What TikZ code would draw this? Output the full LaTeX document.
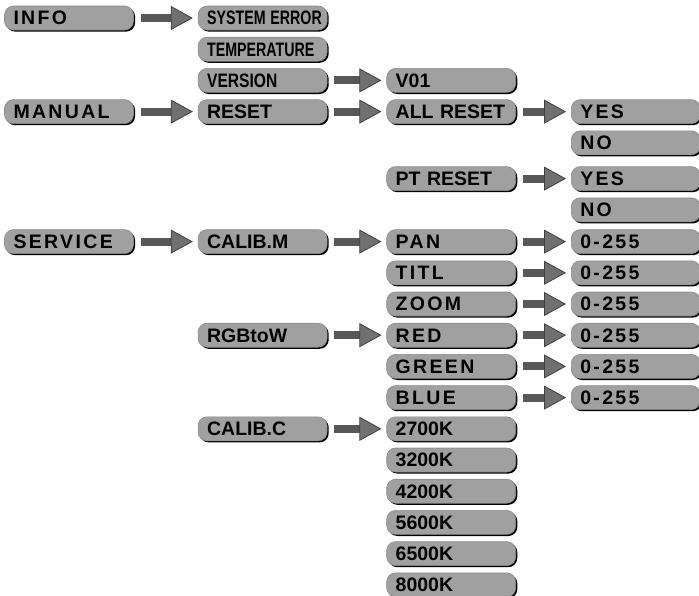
\documentclass[tikz,border=0pt]{standalone}
\usepackage{fontspec}
\setmainfont{Liberation Sans}
\newfontfamily\spacedfont{Liberation Sans}[LetterSpace=12]
\usepackage{graphicx}
\usetikzlibrary{arrows.meta,positioning,shadows}

\definecolor{boxgray}{RGB}{160,160,160}
\definecolor{shaftgray}{RGB}{88,88,88}
\definecolor{headgray}{RGB}{112,112,112}
\newcommand{\narrowtxt}[1]{\scalebox{0.73}[1]{#1}}

\begin{document}
\begin{tikzpicture}[x=1pt, y=-1pt, node distance=6.6pt]
  \tikzstyle{box} = [rectangle, rounded corners=9pt, fill=boxgray, draw=black!45, line width=0.6pt,
    drop shadow={shadow xshift=1.6pt, shadow yshift=-1.6pt, fill=black, opacity=1},
    text width=111pt, inner xsep=9pt, inner ysep=5.2pt, text height=13.6pt, text depth=0pt,
    align=left, font=\fontsize{19.5}{19.5}\selectfont\bfseries]
  \tikzstyle{wide} = [box, font=\fontsize{19.5}{19.5}\selectfont\spacedfont\bfseries]
  \tikzstyle{arrow} = [draw=shaftgray, line width=8pt, shorten <=7pt, shorten >=5pt,
    -{Triangle[length=22pt, width=24pt, line width=0.8pt, fill=headgray, color=black!75]}]
  \useasboundingbox (0,0) rectangle (699,595);

  % first level
  \node[wide] (info) at (69,18) {INFO};
  % info menu
  \node[box, right=64pt of info] (syserr) {\narrowtxt{SYSTEM ERROR}};
  \node[box, below=of syserr] (temp) {\narrowtxt{TEMPERATURE}};
  \node[box, below=of temp] (version) {\scalebox{0.8}[1]{VERSION}};
  \node[box, below=of version] (reset) {RESET};
  \node[wide, left=64pt of reset] (manual) {MANUAL};
  \node[box, right=59pt of version] (v01) {V01};
  % reset menu
  \node[box, below=of v01] (allreset) {\mbox{ALL RESET}};
  \node[wide, right=55pt of allreset] (allyes) {YES};
  \node[wide, below=of allyes] (allno) {NO};
  \node[box, below=42.4pt of allreset] (ptreset) {\mbox{PT RESET}};
  \node[wide, right=55pt of ptreset] (ptyes) {YES};
  \node[wide, below=of ptyes] (ptno) {NO};
  % calibration
  \node[wide, below=38.4pt of ptreset] (pan) {PAN};
  \node[wide, below=of pan] (titl) {TITL};
  \node[wide, below=of titl] (zoom) {ZOOM};
  \node[wide, below=of zoom] (red) {RED};
  \node[wide, below=of red] (green) {GREEN};
  \node[wide, below=of green] (blue) {BLUE};
  \node[box, below=of blue] (k2700) {2700K};
  \node[box, below=of k2700] (k3200) {3200K};
  \node[box, below=of k3200] (k4200) {4200K};
  \node[box, below=of k4200] (k5600) {5600K};
  \node[box, below=of k5600] (k6500) {6500K};
  \node[box, below=of k6500] (k8000) {8000K};
  \node[box, left=59pt of pan] (calibm) {CALIB.M};
  \node[box, left=59pt of red] (rgbtow) {RGBtoW};
  \node[box, left=59pt of k2700] (calibc) {CALIB.C};
  \node[wide, left=64pt of calibm] (service) {SERVICE};
  \foreach \n in {pan,titl,zoom,red,green,blue}
    \node[wide, right=55pt of \n] (\n val) {0-255};

  \draw[arrow] (info.east) -- (syserr.west);
  \draw[arrow] (manual.east) -- (reset.west);
  \draw[arrow] (service.east) -- (calibm.west);
  \draw[arrow] (version.east) -- (v01.west);
  \draw[arrow] (reset.east) -- (allreset.west);
  \draw[arrow] (calibm.east) -- (pan.west);
  \draw[arrow] (rgbtow.east) -- (red.west);
  \draw[arrow] (calibc.east) -- (k2700.west);
  \draw[arrow] (allreset.east) -- (allyes.west);
  \draw[arrow] (ptreset.east) -- (ptyes.west);
  \foreach \n in {pan,titl,zoom,red,green,blue}
    \draw[arrow] (\n.east) -- (\n val.west);
\end{tikzpicture}
\end{document}
